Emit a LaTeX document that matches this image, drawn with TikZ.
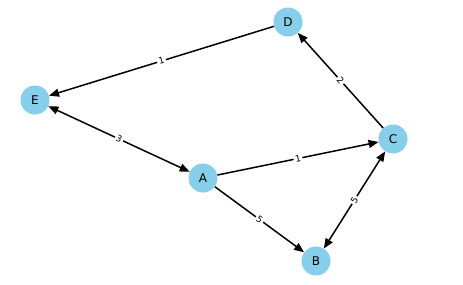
\documentclass[tikz,border=0pt]{standalone}
\usepackage{fontspec}
\setmainfont{DejaVu Sans}
\usetikzlibrary{arrows.meta}
\definecolor{skyblue}{HTML}{87CEEB}
\tikzset{
  vert/.style={circle, fill=skyblue, minimum size=29pt, inner sep=0pt, font=\fontsize{12}{12}\selectfont},
  wt/.style={fill=white, inner sep=1.5pt, sloped, font=\fontsize{9}{9}\selectfont},
  arc/.style={line width=1.5pt, -{Triangle[length=10pt,width=8pt]}},
  both/.style={line width=1.5pt, {Triangle[length=10pt,width=8pt]}-{Triangle[length=10pt,width=8pt]}}
}
\begin{document}
\begin{tikzpicture}[x=1pt,y=-1pt]
	\useasboundingbox (0,0) rectangle (463,284);
	\draw (288,22) node[vert] (D) {D};
	\draw (35,100) node[vert] (E) {E};
	\draw (393,139) node[vert] (C) {C};
	\draw (203,178) node[vert] (A) {A};
	\draw (316,261) node[vert] (B) {B};
	% weighted edges
	\draw[arc] (D) to node[wt] {1} (E);
	\draw[arc] (C) to node[wt] {2} (D);
	\draw[both] (E) to node[wt] {3} (A);
	\draw[arc] (A) to node[wt] {1} (C);
	\draw[arc] (A) to node[wt] {5} (B);
	\draw[both] (C) to node[wt] {5} (B);
\end{tikzpicture}
\end{document}
